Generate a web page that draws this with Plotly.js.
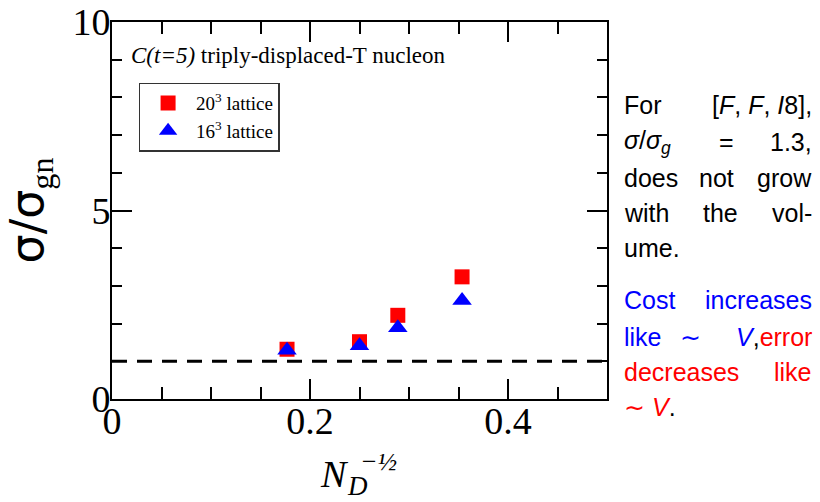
<!DOCTYPE html>
<html>
<head>
<meta charset="utf-8">
<script src="https://cdn.plot.ly/plotly-3.0.1.min.js"></script>
<style>html,body{margin:0;padding:0;background:#fff;}#chart{width:820px;height:502px;}</style>
</head>
<body>
<div id="chart"></div>
<script>
// ---- data ----
var xND = [0.1768, 0.2500, 0.2887, 0.3536];      // N_D^{-1/2}
var ratio20 = [1.32, 1.52, 2.22, 3.24];           // 20^3 lattice
var ratio16 = [1.29, 1.41, 1.89, 2.61];           // 16^3 lattice
var refX = [0, 0.5];
var refY = [1, 1];
var xTicks = [0, 0.2, 0.4];
var xTickText = ['0', '0.2', '0.4'];
var yTicks = [0, 5, 10];
var yTickText = ['0', '5', '10'];
var seriesNames = ['20<sup>3</sup> lattice', '16<sup>3</sup> lattice'];

// ---- layout helpers ----
var L = 111.7, R = 607, T = 22, B = 399;
function px(x) { return (x - L) / (R - L); }
function py(y) { return (B - y) / (B - T); }

var serif = 'Liberation Serif, Times New Roman, serif';
var sans = 'Liberation Sans, Arial, sans-serif';
var BLUE = '#0000ff', RED = '#ff0000';

var traces = [
  {x: refX, y: refY, mode: 'lines', showlegend: false, hoverinfo: 'skip',
   line: {color: '#000', width: 3, dash: '15px,10px'}},
  {x: xND, y: ratio20, mode: 'markers', name: seriesNames[0],
   marker: {symbol: 'square', size: 15, color: RED}},
  {x: xND, y: ratio16, mode: 'markers', name: seriesNames[1],
   marker: {symbol: 'triangle-up', size: 17, color: BLUE}}
];

function ann(text, x, y, xanchor, size, color, family) {
  return {text: text, x: px(x), y: py(y), xref: 'paper', yref: 'paper',
    xanchor: xanchor, yanchor: 'middle', showarrow: false,
    font: {family: family || sans, size: size || 25, color: color || '#000'}};
}

var annotations = [
  ann('<i>C(t=5)</i> triply-displaced-T nucleon', 129, 55, 'left', 23, '#000', serif),
  // x axis label N_D^{-1/2}
  ann('<i>N</i>', 334, 474, 'center', 38, '#000', serif),
  ann('<i>D</i>', 357, 486, 'center', 27, '#000', serif),
  ann('<i>−½</i>', 378, 461, 'center', 26, '#000', serif),
  // right-hand text
  ann('For', 621.7, 105, 'left'),
  ann('[<i>F</i>, <i>F</i>, <i>I</i>8],', 814, 105, 'right'),
  ann('<i>σ</i>/<i>σ<sub>g</sub></i>', 621.7, 142, 'left'),
  ann('=', 727, 142, 'center'),
  ann('1.3,', 814, 142, 'right'),
  ann('does', 621.7, 178, 'left'),
  ann('not', 717, 178, 'center'),
  ann('grow', 814, 178, 'right'),
  ann('with', 621.7, 213, 'left'),
  ann('the', 721, 213, 'center'),
  ann('vol-', 814, 213, 'right'),
  ann('ume.', 621.7, 248, 'left'),
  ann('Cost', 621.7, 300, 'left', 25, BLUE),
  ann('increases', 814, 300, 'right', 25, BLUE),
  ann('like', 621.7, 337, 'left', 25, BLUE),
  ann('∼', 691, 337, 'center', 25, BLUE),
  ann('<span style="color:#0000ff"><i>V</i></span>,<span style="color:#ff0000">error</span>', 814, 337, 'right'),
  ann('decreases', 621.7, 372, 'left', 25, RED),
  ann('like', 814, 372, 'right', 25, RED),
  ann('<span style="color:#ff0000">∼ <i>V</i></span>.', 621.7, 407, 'left')
];

var layout = {
  width: 820, height: 502,
  margin: {l: L, r: 820 - R, t: T, b: 502 - B, pad: 0},
  paper_bgcolor: '#fff', plot_bgcolor: '#fff',
  showlegend: true,
  legend: {x: px(138.3), y: py(82.7), xanchor: 'left', yanchor: 'top',
    bgcolor: '#fff', bordercolor: '#333', borderwidth: 1.5,
    font: {family: serif, size: 19, color: '#000'}, itemwidth: 46,
    tracegroupgap: 0},
  xaxis: {range: [0, 0.5], tickvals: xTicks, ticktext: xTickText,
    ticks: 'inside', ticklen: 20, tickwidth: 2, tickcolor: '#000',
    showline: true, linecolor: '#000', linewidth: 2, mirror: 'ticks',
    showgrid: false, zeroline: false, ticklabelstandoff: -13,
    minor: {dtick: 0.05, ticks: 'inside', ticklen: 12, tickwidth: 2, tickcolor: '#000', showgrid: false},
    tickfont: {family: serif, size: 38, color: '#000'}},
  yaxis: {range: [0, 10], tickvals: yTicks, ticktext: yTickText,
    ticks: 'inside', ticklen: 20, tickwidth: 2, tickcolor: '#000',
    showline: true, linecolor: '#000', linewidth: 2, mirror: 'ticks',
    showgrid: false, zeroline: false, ticklabelstandoff: -8,
    minor: {dtick: 1, ticks: 'inside', ticklen: 10, tickwidth: 2, tickcolor: '#000', showgrid: false},
    tickfont: {family: serif, size: 38, color: '#000'},
    title: {text: 'σ/σ<sub><span style="font-family:Liberation Serif">gn</span></sub>',
      font: {family: 'DejaVu Sans, sans-serif', size: 46, color: '#000'}, standoff: 18}},
  annotations: annotations
};

Plotly.newPlot('chart', traces, layout, {staticPlot: true});
</script>
</body>
</html>
